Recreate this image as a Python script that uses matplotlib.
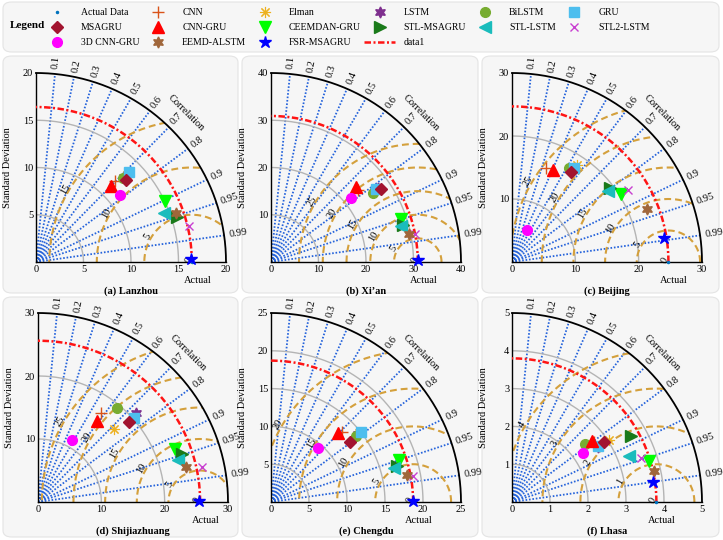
import numpy as np
import matplotlib
matplotlib.use("Agg")
import matplotlib.pyplot as plt
from matplotlib.lines import Line2D
from matplotlib.patches import Wedge, FancyBboxPatch

plt.rcParams["font.family"] = ["Liberation Serif", "DejaVu Serif"]
plt.rcParams["font.size"] = 7.5

# ---- data (std dev and correlation) ----
MODELS = ["CNN", "Elman", "LSTM", "BiLSTM", "GRU", "MSAGRU", "CNN-GRU",
          "CEEMDAN-GRU", "STL-MSAGRU", "STL-LSTM", "STL2-LSTM", "3D CNN-GRU",
          "EEMD-ALSTM", "FSR-MSAGRU"]
CITIES = ["(a) Lanzhou", "(b) Xi\u2019an", "(c) Beijing",
          "(d) Shijiazhuang", "(e) Chengdu", "(f) Lhasa"]
REF_STD = [16.4, 30.9, 24.7, 25.6, 18.7, 3.8]

LANZHOU_STD = [11.94, 13.3, 12.9, 12.8, 13.66, 12.82, 11.27, 15.05, 15.55, 14.45, 16.59, 11.33, 15.57, 16.28]
LANZHOU_COR = [0.697, 0.718, 0.719, 0.719, 0.719, 0.736, 0.698, 0.904, 0.952, 0.932, 0.973, 0.780, 0.944, 0.9998]
XIAN_STD = [23.79, 26.9, 27.38, 25.98, 26.83, 27.75, 23.98, 28.81, 28.87, 28.35, 30.87, 21.66, 29.66, 30.97]
XIAN_COR = [0.769, 0.825, 0.822, 0.826, 0.820, 0.831, 0.747, 0.948, 0.963, 0.963, 0.982, 0.778, 0.980, 0.9999]
BEIJING_STD = [15.94, 18.53, 17.42, 17.4, 17.79, 17.0, 15.98, 20.25, 19.39, 18.84, 21.64, 5.57, 22.87, 24.23]
BEIJING_COR = [0.341, 0.556, 0.545, 0.519, 0.549, 0.547, 0.407, 0.848, 0.798, 0.802, 0.849, 0.427, 0.931, 0.9875]
SHIJIAZHUANG_STD = [17.29, 16.64, 20.9, 19.42, 20.1, 19.13, 15.87, 23.16, 24.03, 23.1, 26.53, 11.28, 23.98, 25.4]
SHIJIAZHUANG_COR = [0.578, 0.718, 0.738, 0.642, 0.751, 0.751, 0.587, 0.932, 0.948, 0.957, 0.978, 0.481, 0.972, 0.99998]
CHENGDU_STD = [13.21, 14.74, 14.6, 14.24, 14.97, 13.06, 12.64, 17.77, 17.24, 16.81, 19.03, 9.41, 18.3, 18.7]
CHENGDU_COR = [0.710, 0.787, 0.788, 0.788, 0.788, 0.792, 0.696, 0.949, 0.960, 0.964, 0.983, 0.655, 0.981, 0.99998]
LHASA_STD = [2.67, 3.03, 2.68, 2.45, 2.69, 2.9, 2.66, 3.78, 3.59, 3.3, 3.58, 2.28, 3.82, 3.74]
LHASA_COR = [0.806, 0.839, 0.840, 0.779, 0.837, 0.838, 0.796, 0.957, 0.875, 0.931, 0.946, 0.821, 0.976, 0.990]

STD_ALL = [LANZHOU_STD, XIAN_STD, BEIJING_STD, SHIJIAZHUANG_STD, CHENGDU_STD, LHASA_STD]
COR_ALL = [LANZHOU_COR, XIAN_COR, BEIJING_COR, SHIJIAZHUANG_COR, CHENGDU_COR, LHASA_COR]

# axis settings per panel
AXIS_MAX = [20, 40, 30, 30, 25, 5]
STD_STEP = [5, 10, 10, 10, 5, 1]
RMS_TICKS = [[5, 10, 15], [5, 10, 15, 20, 25], [5, 10, 15, 20, 25],
             [5, 10, 15, 20, 25], [5, 10, 15, 20], [1, 2, 3, 4]]
COR_TICKS = [0.1, 0.2, 0.3, 0.4, 0.5, 0.6, 0.7, 0.8, 0.9, 0.95, 0.99]

STYLE = {
    "CNN": dict(marker="+", color="#D95319", ms=8, mew=1.0),
    "Elman": dict(marker=(8, 2, 0), color="#EDB120", ms=8, mew=0.8),
    "LSTM": dict(marker=(6, 1, 0), color="#7E2F8E", ms=8),
    "BiLSTM": dict(marker="o", color="#77AC30", ms=7),
    "GRU": dict(marker="s", color="#4DBEEE", ms=7),
    "MSAGRU": dict(marker="D", color="#A2142F", ms=6),
    "CNN-GRU": dict(marker="^", color="#FF0000", ms=8),
    "CEEMDAN-GRU": dict(marker="v", color="#00FF00", ms=8),
    "STL-MSAGRU": dict(marker=">", color="#1A7A1A", ms=8),
    "STL-LSTM": dict(marker="<", color="#1ABCBC", ms=8),
    "STL2-LSTM": dict(marker="x", color="#C83FD0", ms=6, mew=1.0),
    "3D CNN-GRU": dict(marker="o", color="#FF00FF", ms=7),
    "EEMD-ALSTM": dict(marker=(6, 1, 0), color="#A0663A", ms=8),
    "FSR-MSAGRU": dict(marker="*", color="#0000FF", ms=9),
}
BLUE = "#2563DB"
GOLD = "#D4A03C"
GRAY = "#B4B4B4"
RED = "#FF1414"

W, H = 723, 540
# axes origin (px from left, px from top) and size in px
AX_POS = [(36, 262), (271, 262), (512, 262), (38, 502), (271, 502), (512, 502)]
AX_SIZE = 190


def taylor(ax, title, ref, vmax, step, rms_ticks, std, cor):
    ax.set_xlim(0, vmax)
    ax.set_ylim(0, vmax)
    ax.set_facecolor("none")
    for s in ("top", "right"):
        ax.spines[s].set_visible(False)
    for s in ("left", "bottom"):
        ax.spines[s].set_linewidth(1.0)
    ticks = np.arange(0, vmax + step / 2, step)
    ax.set_xticks(ticks)
    ax.set_yticks(ticks[1:])
    ax.set_xticklabels([f"{t:g}" for t in ticks])
    ax.set_yticklabels([f"{t:g}" for t in ticks[1:]])
    ax.tick_params(length=0, pad=2, labelsize=7.5)
    ax.set_ylabel("Standard Deviation", fontsize=7.5)
    ax.yaxis.set_label_coords(-0.125, 0.5)

    clip = Wedge((0, 0), vmax, 0, 90, transform=ax.transData)
    th = np.linspace(0, np.pi / 2, 300)

    for c in COR_TICKS:
        a = np.arccos(c)
        ax.plot([0, vmax * np.cos(a)], [0, vmax * np.sin(a)], color=BLUE,
                lw=1.3, ls=(0, (0.9, 1.0)), zorder=1)
        ax.text(1.025 * vmax * np.cos(a), 1.025 * vmax * np.sin(a), f"{c:g}",
                rotation=np.degrees(a), rotation_mode="anchor",
                ha="left", va="center", fontsize=7.5)
    ax.text(1.115 * vmax * np.cos(np.pi / 4), 1.115 * vmax * np.sin(np.pi / 4),
            "Correlation", rotation=-45, ha="center", va="center", fontsize=7.5)

    for r in ticks[1:-1]:
        ax.plot(r * np.cos(th), r * np.sin(th), color=GRAY, lw=1.0, zorder=1)
    ax.plot(vmax * np.cos(th), vmax * np.sin(th), color="black", lw=1.3,
            clip_on=False, zorder=3)

    phi = np.linspace(0, np.pi, 500)
    for r in rms_ticks:
        ln, = ax.plot(ref + r * np.cos(phi), r * np.sin(phi), color=GOLD,
                      lw=1.5, ls=(0, (3.3, 1.9)), zorder=2)
        ln.set_clip_path(clip)
    lab_ang = np.radians(150)
    for r in [0] + rms_ticks:
        rr = r + 0.02 * vmax
        ax.text(ref + rr * np.cos(lab_ang), rr * np.sin(lab_ang), f"{r:g}",
                rotation=60, ha="center", va="center", fontsize=7.5, zorder=4)

    ax.plot(ref * np.cos(th), ref * np.sin(th), color=RED, lw=1.8,
            ls=(0, (2.6, 1.0, 0.8, 1.0)), zorder=3)

    ax.plot([ref], [0], ".", color="#0072BD", ms=3, zorder=5, clip_on=False)
    for name, s, c in zip(MODELS, std, cor):
        a = np.arccos(c)
        ax.plot([s * np.cos(a)], [s * np.sin(a)], ls="none", zorder=5,
                clip_on=False, **STYLE[name])

    ax.annotate("Actual", (ref, 0), xytext=(4, -13), textcoords="offset points",
                ha="center", va="center", fontsize=7.5)
    ax.annotate(title, (0.5, 0), xycoords="axes fraction", xytext=(0, -21),
                textcoords="offset points", ha="center", va="center",
                fontsize=7.5, fontweight="bold")


fig = plt.figure(figsize=(W / 100, H / 100), dpi=100)

# background boxes
boxes = [(3, 2, 716, 50),
         (3, 56, 235, 237), (242, 56, 236, 237), (482, 56, 237, 237),
         (3, 297, 235, 240), (242, 297, 236, 240), (482, 297, 237, 240)]
for x0, y0, bw, bh in boxes:
    fig.patches.append(FancyBboxPatch(
        (x0 / W, 1 - (y0 + bh) / H), bw / W, bh / H,
        boxstyle="round,pad=0,rounding_size=0.012", transform=fig.transFigure,
        facecolor="#F6F6F6", edgecolor="#E4E4E4", lw=0.8, zorder=-5))

for i, (px, py) in enumerate(AX_POS):
    ax = fig.add_axes([px / W, 1 - py / H, AX_SIZE / W, (AX_SIZE - 1) / H])
    taylor(ax, CITIES[i], REF_STD[i], AXIS_MAX[i], STD_STEP[i],
           RMS_TICKS[i], STD_ALL[i], COR_ALL[i])

# legend
handles = {"Actual Data": Line2D([], [], ls="none", marker=".", color="#0072BD", ms=3)}
for name in MODELS:
    handles[name] = Line2D([], [], ls="none", **STYLE[name])
handles["data1"] = Line2D([], [], color=RED, lw=1.8, ls=(0, (2.6, 1.0, 0.8, 1.0)))
order = ["Actual Data", "MSAGRU", "3D CNN-GRU", "CNN", "CNN-GRU", "EEMD-ALSTM",
         "Elman", "CEEMDAN-GRU", "FSR-MSAGRU", "LSTM", "STL-MSAGRU", "data1",
         "BiLSTM", "STL-LSTM", "GRU", "STL2-LSTM"]
fig.legend([handles[k] for k in order], order, ncol=6, loc="upper left",
           bbox_to_anchor=(41 / W, 1 - 8 / H), frameon=False, fontsize=7,
           handlelength=3.2, handletextpad=0.9, columnspacing=0.3,
           labelspacing=0.62, borderpad=0, borderaxespad=0)
fig.text(10 / W, 1 - 26 / H, "Legend", fontsize=8, fontweight="bold",
         ha="left", va="center")

fig.savefig("out.png", dpi=100)
